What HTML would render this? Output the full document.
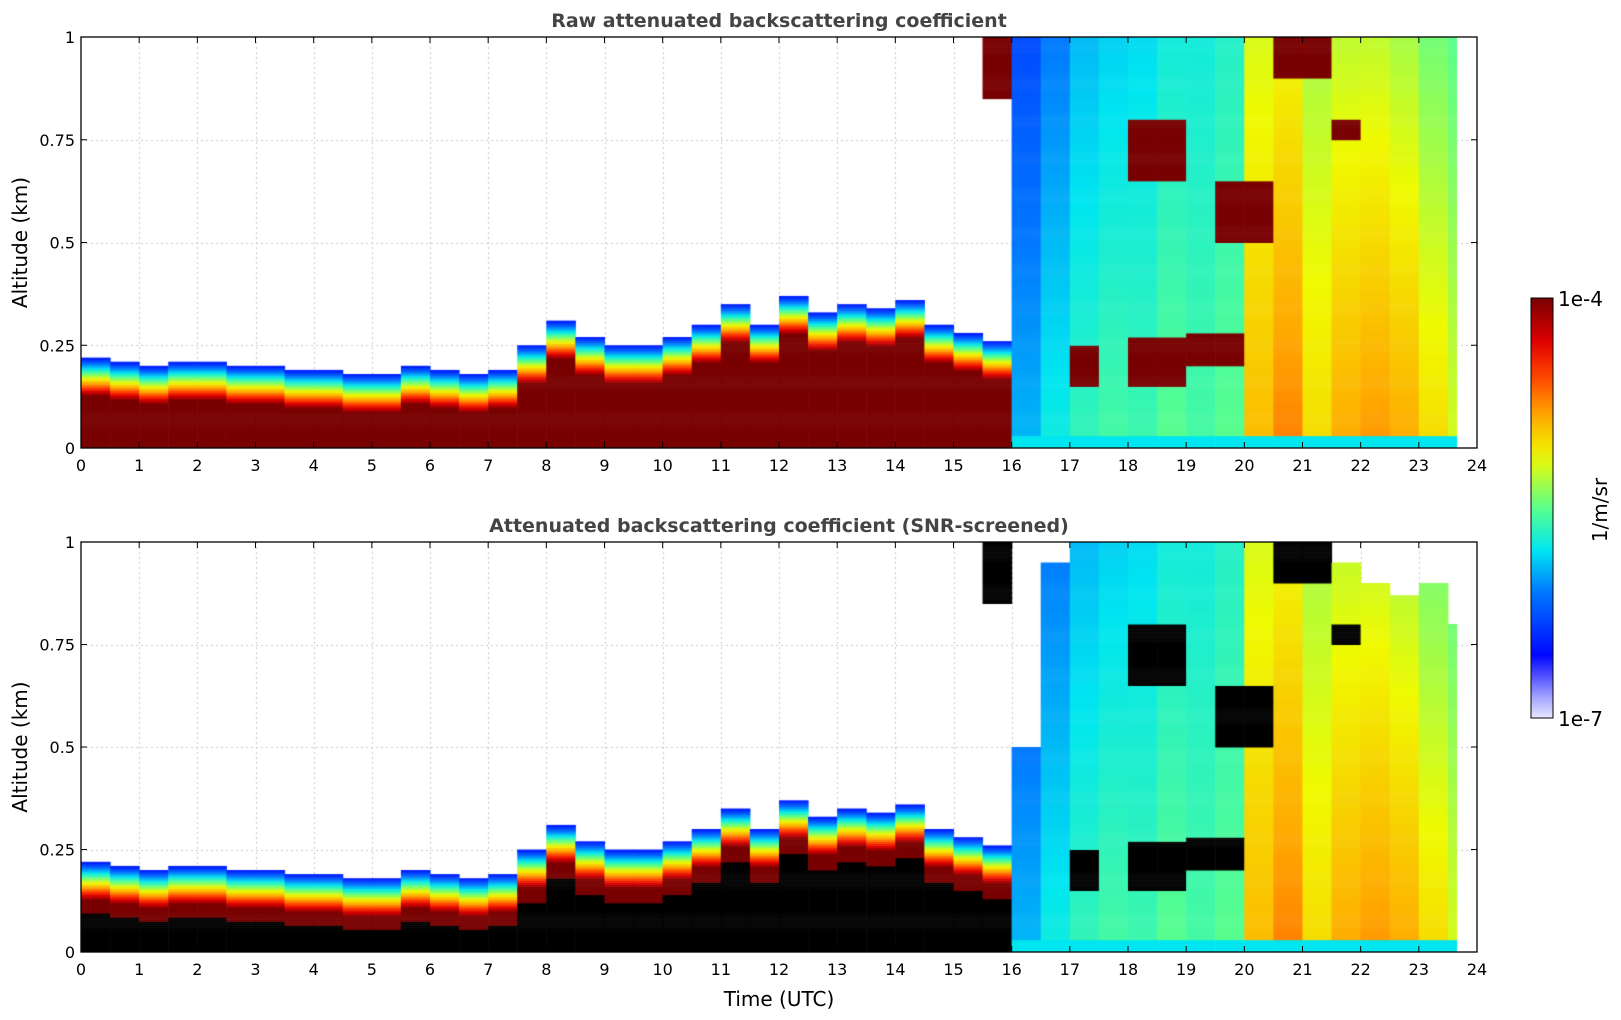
<!DOCTYPE html>
<html><head><meta charset="utf-8">
<style>
body{margin:0;background:#fff;width:1621px;height:1020px;position:relative;overflow:hidden;font-family:"DejaVu Sans","Liberation Sans",sans-serif}
canvas{position:absolute}
svg{position:absolute;left:0;top:0}
</style></head>
<body>
<canvas id="c1" width="1396" height="411" style="left:81px;top:37px"></canvas>
<canvas id="c2" width="1396" height="410" style="left:81px;top:542px"></canvas>
<svg id="ov" width="1621" height="1020"></svg>
<script>
// half-hour columns 0..23.5
const hours = [0,0.5,1,1.5,2,2.5,3,3.5,4,4.5,5,5.5,6,6.5,7,7.5,8,8.5,9,9.5,10,10.5,11,11.5,12,12.5,13,13.5,14,14.5,15,15.5,16,16.5,17,17.5,18,18.5,19,19.5,20,20.5,21,21.5,22,22.5,23,23.5];
// aerosol layer top (km); 1 = full column after 16h
const layerTop = [0.22,0.21,0.2,0.21,0.21,0.2,0.2,0.19,0.19,0.18,0.18,0.2,0.19,0.18,0.19,0.25,0.31,0.27,0.25,0.25,0.27,0.3,0.35,0.3,0.37,0.33,0.35,0.34,0.36,0.3,0.28,0.26,1,1,1,1,1,1,1,1,1,1,1,1,1,1,1,1];
// fill level of full column after 16h near ground (0..1 colour scale)
const fillVal = [0,0,0,0,0,0,0,0,0,0,0,0,0,0,0,0,0,0,0,0,0,0,0,0,0,0,0,0,0,0,0,0,0.36,0.42,0.46,0.48,0.47,0.5,0.48,0.5,0.7,0.76,0.66,0.72,0.74,0.72,0.66,0.6];
// decrease of colour value toward 1 km
const fillDrop = [0,0,0,0,0,0,0,0,0,0,0,0,0,0,0,0,0,0,0,0,0,0,0,0,0,0,0,0,0,0,0,0,0.12,0.12,0.1,0.1,0.08,0.08,0.06,0.06,0.1,0.14,0.1,0.14,0.16,0.16,0.14,0.1];
// max valid altitude in SNR-screened panel
const snrTop = [0,0,0,0,0,0,0,0,0,0,0,0,0,0,0,0,0,0,0,0,0,0,0,0,0,0,0,0,0,0,0,0,0.5,0.95,1,1,1,1,1,1,1,1,1,0.95,0.9,0.87,0.9,0.8];
// clouds: start hour, end hour, base km, top km
const cloudT0 = [15.5,17,18,19,18,19.5,20.5,21.5];
const cloudT1 = [16,17.5,19,20,19,20.5,21.5,21.8];
const cloudZ0 = [0.85,0.15,0.15,0.2,0.65,0.5,0.9,0.75];
const cloudZ1 = [1,0.25,0.27,0.28,0.8,0.65,1,0.8];

const W=1396, L=81;
const x = t => t/24*W;
function cmap(v){
  const st=[[0,[232,232,255]],[0.08,[120,120,255]],[0.14,[0,0,255]],[0.3,[0,120,255]],[0.4,[0,230,240]],[0.5,[90,255,140]],[0.62,[240,250,0]],[0.72,[255,170,0]],[0.82,[255,60,0]],[0.9,[220,0,0]],[1,[120,0,0]]];
  v=Math.max(0,Math.min(1,v));
  for(let i=1;i<st.length;i++){if(v<=st[i][0]){const a=st[i-1],b=st[i],f=(v-a[0])/(b[0]-a[0]);return 'rgb('+a[1].map((c,k)=>Math.round(c+(b[1][k]-c)*f)).join(',')+')';}}
}
function value(i,z){
  const t=hours[i];
  for(let k=0;k<cloudT0.length;k++){ if(t>=cloudT0[k]&&t<cloudT1[k]&&z>=cloudZ0[k]&&z<=cloudZ1[k]) return 2; }
  if(layerTop[i]>=1){ if(z<0.03) return 0.4; return fillVal[i]-fillDrop[i]*z; }
  if(z>layerTop[i]) return null;
  const d=layerTop[i]-z;
  if(d>=0.13) return 2;
  return Math.min(1,0.14+d*9);
}
function draw(id,H,snr){
  const c=document.getElementById(id).getContext('2d');
  const y = z => H - z*H;
  c.strokeStyle='#c8c8c8';c.setLineDash([2,3]);c.lineWidth=1;
  for(let t=1;t<24;t++){c.beginPath();c.moveTo(Math.round(x(t))+.5,0);c.lineTo(Math.round(x(t))+.5,H);c.stroke();}
  for(const z of [0.25,0.5,0.75]){c.beginPath();c.moveTo(0,Math.round(y(z))+.5);c.lineTo(W,Math.round(y(z))+.5);c.stroke();}
  const dz=0.005;
  for(let i=0;i<hours.length;i++){
    for(let z=0;z<1;z+=dz){
      let v=value(i,z);
      if(v===null) continue;
      if(snr){ if(layerTop[i]>=1 && z>snrTop[i]) continue; }
      c.fillStyle = (snr && v>1.5)?'#000':cmap(v);
      const x0=x(hours[i]), x1=x(Math.min(hours[i]+0.5,23.65));
      c.fillRect(x0,y(z+dz),x1-x0+0.5,y(z)-y(z+dz)+0.5);
    }
  }
}
draw('c1',411,false);
draw('c2',410,true);

const ns='http://www.w3.org/2000/svg', ov=document.getElementById('ov');
function el(tag,attrs,txt){const e=document.createElementNS(ns,tag);for(const k in attrs)e.setAttribute(k,attrs[k]);if(txt!==undefined)e.textContent=txt;ov.appendChild(e);return e;}
const xTicks=[0,1,2,3,4,5,6,7,8,9,10,11,12,13,14,15,16,17,18,19,20,21,22,23,24];
const yTicks=[0,0.25,0.5,0.75,1];
const yLabels=['0','0.25','0.5','0.75','1'];
function axes(top,h,title,name){
  const r=el('rect',{x:L,y:top,width:W,height:h,fill:'none',stroke:'#000','stroke-width':1.3});
  
  const tt=el('text',{x:L+W/2,y:top-10,'text-anchor':'middle','font-size':19,'font-weight':'bold',fill:'#444'},title);
  
  xTicks.forEach(t=>{const X=L+t/24*W;
    el('line',{x1:X,x2:X,y1:top+h,y2:top+h-6,stroke:'#000'});el('line',{x1:X,x2:X,y1:top,y2:top+6,stroke:'#000'});
    const l=el('text',{x:X,y:top+h+23,'text-anchor':'middle','font-size':16},String(t));
    });
  yTicks.forEach((z,k)=>{const Y=top+h-z*h;
    el('line',{x1:L,x2:L+6,y1:Y,y2:Y,stroke:'#000'});el('line',{x1:L+W,x2:L+W-6,y1:Y,y2:Y,stroke:'#000'});
    const l=el('text',{x:L-6,y:Y+6,'text-anchor':'end','font-size':16},yLabels[k]);
    });
  const yl=el('text',{x:27,y:top+h/2,'text-anchor':'middle','font-size':20,transform:'rotate(-90 27 '+(top+h/2)+')'},'Altitude (km)');
  
}
axes(37,411,'Raw attenuated backscattering coefficient','raw-panel');
axes(542,410,'Attenuated backscattering coefficient (SNR-screened)','snr-panel');
const xl=el('text',{x:L+W/2,y:1006,'text-anchor':'middle','font-size':20},'Time (UTC)');

// colorbar
const defs=el('defs',{});const g=document.createElementNS(ns,'linearGradient');g.setAttribute('id','cb');g.setAttribute('x1','0');g.setAttribute('y1','1');g.setAttribute('x2','0');g.setAttribute('y2','0');defs.appendChild(g);
for(let i=0;i<=20;i++){const s=document.createElementNS(ns,'stop');s.setAttribute('offset',i/20);s.setAttribute('stop-color',cmap(i/20));g.appendChild(s);}
const cb=el('rect',{x:1531,y:298,width:22,height:420,fill:'url(#cb)',stroke:'#000','stroke-width':1});

const c1=el('text',{x:1558,y:306,'font-size':20},'1e-4');
const c2=el('text',{x:1558,y:726,'font-size':20},'1e-7');
const cu=el('text',{x:1607,y:510,'text-anchor':'middle','font-size':20,transform:'rotate(-90 1607 510)'},'1/m/sr');

</script>
</body></html>
